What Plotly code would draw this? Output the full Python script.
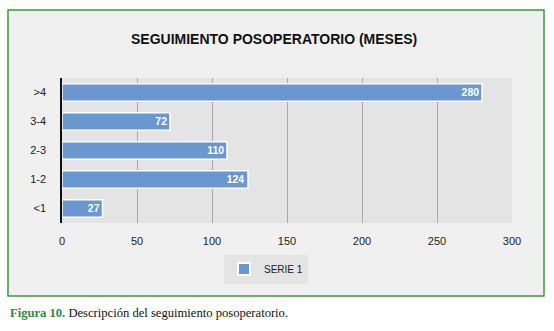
import plotly.graph_objects as go

categories = ["<1", "1-2", "2-3", "3-4", ">4"]
values = [27, 124, 110, 72, 280]
x_ticks = [0, 50, 100, 150, 200, 250, 300]
series_name = "SERIE 1"
title_text = "SEGUIMIENTO POSOPERATORIO (MESES)"

L, R, T, B = 62, 512, 78, 223
W, H = 554, 331
def px(x):
    return (x - L) / (R - L)
def py(y):
    return (B - y) / (B - T)

fig = go.Figure()
fig.add_trace(go.Bar(
    y=categories, x=values, orientation="h", name=series_name,
    marker=dict(color="#6b97d0", line=dict(color="#ffffff", width=1.5)),
    width=0.6,
    text=["<b>" + str(v) + "</b>" for v in values], textposition="inside", insidetextanchor="end",
    textfont=dict(color="white", size=11, family="Liberation Sans, Arial"),
    showlegend=True,
))

fig.add_shape(type="rect", xref="paper", yref="paper",
              x0=px(8), x1=px(544), y0=py(296), y1=py(10),
              fillcolor="#f0f0f0", line=dict(color="#3a9a3a", width=1.5), layer="below")
fig.add_shape(type="rect", xref="paper", yref="paper",
              x0=0, x1=1, y0=0, y1=1,
              fillcolor="#e4e4e4", line=dict(width=0), layer="below")

fig.add_annotation(xref="paper", yref="paper", x=px(274), y=py(39),
                   text="<b>" + title_text + "</b>", showarrow=False,
                   font=dict(family="Liberation Sans, Arial", size=14, color="#111111"),
                   xanchor="center", yanchor="middle")
fig.add_annotation(xref="paper", yref="paper", x=px(8), y=py(313),
                   text="<b><span style='color:#2e8b3a'>Figura 10.</span></b> Descripción del seguimiento posoperatorio.",
                   showarrow=False, xanchor="left", yanchor="middle",
                   font=dict(family="Liberation Serif, Times New Roman, serif", size=12.6, color="#111111"))

fig.update_layout(
    width=W, height=H,
    margin=dict(l=L, r=W - R, t=T, b=H - B, pad=0),
    paper_bgcolor="white", plot_bgcolor="rgba(0,0,0,0)",
    font=dict(family="Liberation Sans, Arial", size=11, color="#222222"),
    bargap=0.4,
    xaxis=dict(range=[0, 300], tickvals=x_ticks, showgrid=True, gridcolor="#a8a8a8",
               gridwidth=1, zeroline=False, showline=False, ticks="",
               ticklabelstandoff=10, tickfont=dict(size=11)),
    yaxis=dict(showline=True, linecolor="#111111", linewidth=1.5, ticks="",
               ticklabelstandoff=12, showgrid=False, tickfont=dict(size=11)),
    legend=dict(orientation="h", x=px(266), y=py(269), xanchor="center", yanchor="middle",
                bgcolor="#e4e4e4", font=dict(size=10, color="#222222"),
                itemwidth=30, itemsizing="constant", tracegroupgap=0),
)

fig.write_html("out.html")
